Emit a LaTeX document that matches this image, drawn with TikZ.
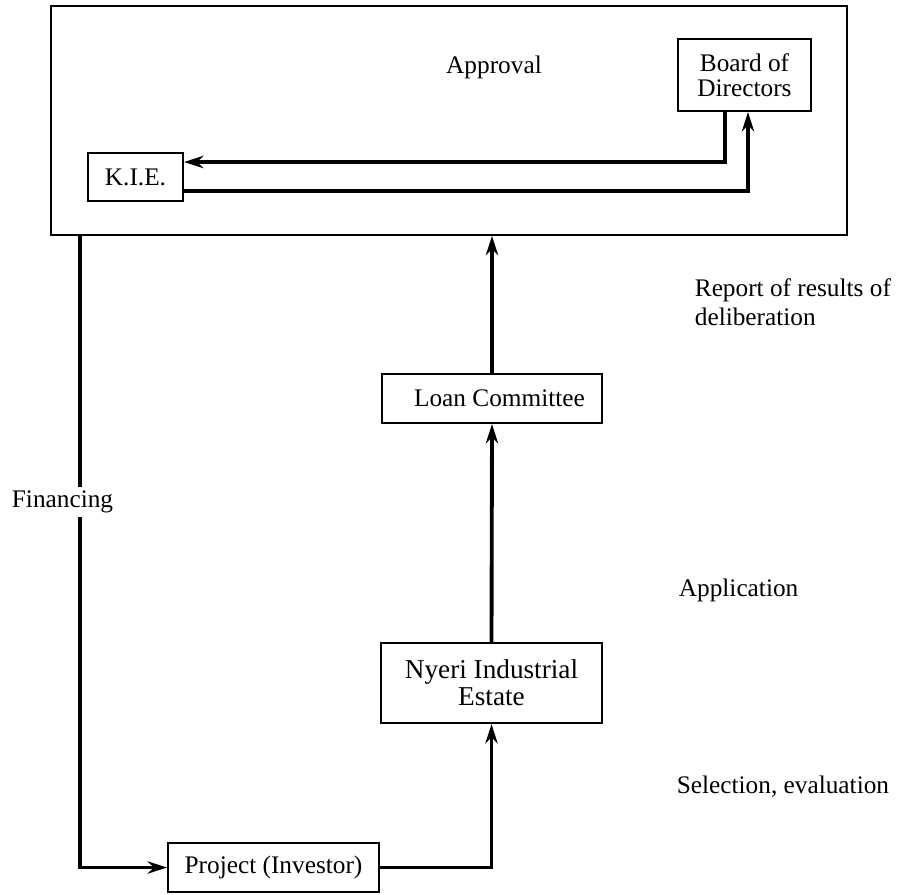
\documentclass[tikz,border=0pt]{standalone}
\usepackage{fontspec}
\setmainfont{Liberation Serif}
\usepackage{tikz}
\usetikzlibrary{shapes,arrows.meta,positioning}

\begin{document}
\begin{tikzpicture}[
    x=0.02cm, y=-0.02cm,
    font=\fontsize{14.4}{15.5}\selectfont,
    panelbox/.style={rectangle, draw, line width=1pt, inner sep=0pt},
    unit/.style={rectangle, draw, line width=1.2pt, inner sep=0pt, align=center},
    label/.style={inner sep=2pt, align=left},
    arrow/.style={-{Stealth[length=11pt, width=7pt]}, line width=2.2pt}
]
\useasboundingbox (0,0) rectangle (902,894);

% Approval frame
\node[panelbox, minimum width=15.92cm, minimum height=4.58cm] (panel) at (449,120.5) {};
\node (approval) at (494,67) {Approval};

\node[unit, minimum width=2.66cm, minimum height=1.44cm, font=\fontsize{14.4}{14.2}\selectfont] (board) at (744.5,75) {Board of\\Directors};
\node[unit, minimum width=1.9cm, minimum height=0.96cm] (kie) at (135.5,177) {K.I.E.};

% Committee chain
\node[unit, minimum width=4.4cm, minimum height=0.98cm] (loan) at (492,398.5) {\hspace{0.3cm}Loan Committee};
\node[unit, minimum width=4.42cm, minimum height=1.6cm, font=\fontsize{15.5}{15.3}\selectfont] (nyeri) at (491.5,683) {Nyeri Industrial\\Estate};
\node[unit, minimum width=4.22cm, minimum height=0.98cm] (project) at (273.5,867.5) {Project (Investor)};

% Side labels
\node[label, anchor=west, font=\fontsize{14.4}{16.4}\selectfont] (report) at (691,302) {Report of results of\\deliberation};
\node[label, anchor=west] (application) at (675,590) {Application};
\node[label, anchor=west] (selection) at (673,787) {Selection, evaluation};

% Inside the frame
\draw[arrow] ([xshift=-0.39cm]board.south) |- ([yshift=0.3cm]kie.east);
\draw[arrow] ([yshift=-0.28cm]kie.east) -| ([xshift=0.07cm]board.south);

% Financing
\coordinate (fintop) at (80,235);
\draw[arrow] (fintop) |- (project.west);
\node[label, fill=white] (financing) at (62.5,502) {Financing};

% Upward chain
\draw[arrow] (project.east) -| (nyeri.south);
\draw[arrow] (nyeri.north) -- (loan.south);
\draw[arrow] (loan.north) -- (loan.north |- panel.south);

\end{tikzpicture}
\end{document}
